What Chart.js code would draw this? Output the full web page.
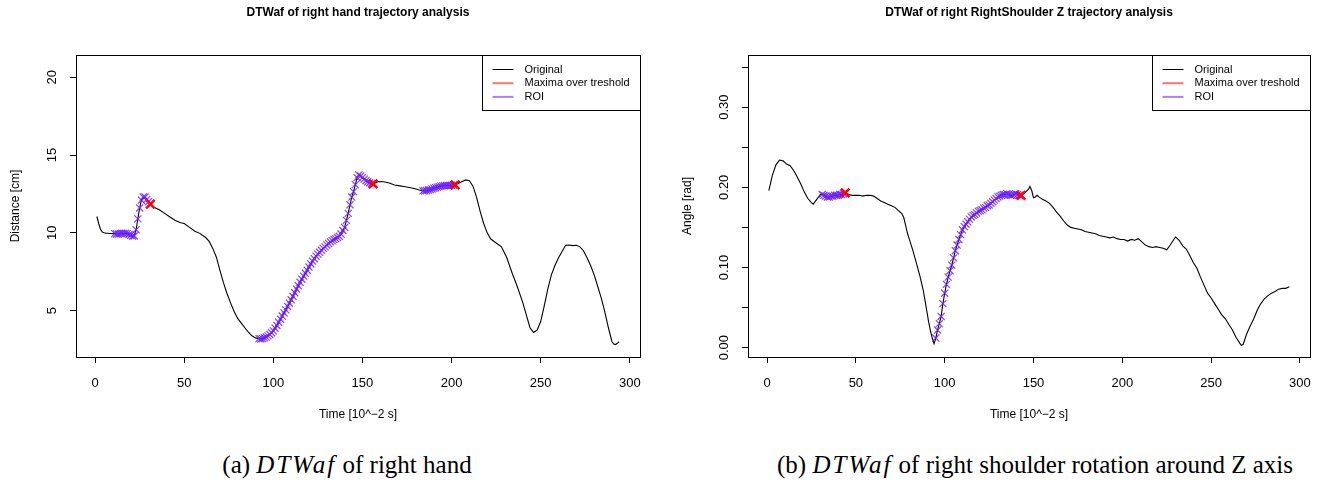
<!DOCTYPE html>
<html>
<head>
<meta charset="utf-8">
<script src="https://cdn.jsdelivr.net/npm/chart.js@4.4.1/dist/chart.umd.min.js"></script>
<style>
  body { margin: 0; background: #fff; width: 1324px; height: 485px; position: relative; overflow: hidden; }
  .panel { position: absolute; top: 0; width: 662px; height: 440px; }
  .caption {
    position: absolute; top: 450px; width: 700px; text-align: center; line-height: 30px;
    font-family: "Liberation Serif", "Times New Roman", serif; font-size: 25px; color: #000;
  }
  .caption i { letter-spacing: 2px; }
</style>
</head>
<body>
<div class="panel" style="left:0"><canvas id="handChart" width="662" height="440"></canvas></div>
<div class="panel" style="left:662px"><canvas id="shoulderChart" width="662" height="440"></canvas></div>
<div class="caption" style="left:-3px">(a) <i>DTWaf</i> of right hand</div>
<div class="caption" style="left:685px">(b) <i>DTWaf</i> of right shoulder rotation around Z axis</div>

<script>
// ---- data: right hand distance ----
const handTime = [
  1, 2, 3, 4, 5, 6, 7, 8, 9, 10, 11, 12, 13, 14, 15, 16, 17, 18, 19, 20,
  21, 22, 23, 24, 25, 26, 27, 28, 29, 30, 31,
  33, 36, 39, 42, 45, 48, 50, 53, 56, 59, 62, 64, 66, 68, 70, 72, 74, 76, 78, 80,
  82, 84, 86, 88, 90,
  92, 93, 94, 95, 96, 97, 98, 99, 100, 101, 102, 103, 104, 105, 106, 107, 108, 109, 110, 111,
  112, 113, 114, 115, 116, 117, 118, 119, 120, 121, 122, 123, 124, 125, 126, 127, 128, 129, 130, 131,
  132, 133, 134, 135, 136, 137, 138, 139, 140, 141, 142, 143, 144, 145, 146, 147, 148, 149, 150, 151,
  152, 153, 154, 155, 156,
  159, 162, 165, 168, 171, 174, 177, 180, 183,
  184, 185, 186, 187, 188, 189, 190, 191, 192, 193, 194, 195, 196, 197, 198, 199, 200, 201, 202,
  205, 208, 210, 212, 214, 216, 218, 220, 222, 225, 228, 231, 234, 237, 240, 242, 244, 246, 248, 250,
  252, 254, 256, 258, 260, 262, 264, 266, 268, 270, 272, 274, 276, 278, 280, 282, 284, 286, 288, 290,
  291, 292, 293, 294
]
const handDist = [
  11.05, 10.6, 10.25, 10.05, 10.0, 9.98, 9.97, 9.96, 9.96, 9.95, 9.95, 9.93, 9.92, 9.95, 9.97, 9.96, 9.98, 9.95, 9.9, 9.85,
  9.8, 9.8, 10.2, 10.9, 11.6, 12.1, 12.3, 12.3, 12.15, 12.0, 11.85,
  11.65, 11.48, 11.25, 11.02, 10.8, 10.65, 10.6, 10.35, 10.1, 9.95, 9.7, 9.45, 9.0, 8.45, 7.6, 6.8, 6.1, 5.5, 4.95, 4.5,
  4.2, 3.9, 3.62, 3.38, 3.25,
  3.2, 3.18, 3.2, 3.25, 3.3, 3.38, 3.47, 3.58, 3.7, 3.87, 4.05, 4.25, 4.45, 4.65, 4.85, 5.05, 5.27, 5.48, 5.7, 5.92,
  6.15, 6.38, 6.6, 6.82, 7.02, 7.22, 7.4, 7.6, 7.8, 8.0, 8.18, 8.34, 8.5, 8.63, 8.75, 8.88, 9.0, 9.1, 9.22, 9.32,
  9.42, 9.5, 9.57, 9.63, 9.7, 9.78, 9.92, 10.15, 10.35, 10.8, 11.25, 11.8, 12.3, 12.65, 13.1, 13.55, 13.72, 13.65, 13.55, 13.45,
  13.35, 13.28, 13.22, 13.18, 13.15,
  13.3, 13.28, 13.2, 13.08, 13.02, 12.96, 12.9, 12.82, 12.72,
  12.7, 12.7, 12.72, 12.75, 12.78, 12.82, 12.87, 12.9, 12.94, 12.97, 13.0, 13.02, 13.03, 13.04, 13.05, 13.05, 13.06, 13.07, 13.08,
  13.25, 13.4, 13.35, 13.0, 12.3, 11.4, 10.6, 10.0, 9.6, 9.35, 9.1, 8.4, 7.4, 6.5, 5.5, 4.7, 3.9, 3.6, 3.75, 4.3,
  5.3, 6.4, 7.3, 7.9, 8.4, 8.8, 9.2, 9.22, 9.18, 9.2, 9.1, 8.85, 8.4, 7.9, 7.3, 6.55, 5.8, 4.9, 3.9, 3.0,
  2.85, 2.82, 2.9, 3.0
]
const handRoi = [[11, 30], [92, 155], [184, 201]]
const handMaxima = [31, 156, 202]
const handYTicks = [5, 10, 15, 20]

// ---- data: right shoulder Z angle ----
const shoulderTime = [
  1, 3, 5, 7, 9, 11, 13, 15, 17, 19, 21, 23, 25, 26, 28, 30,
  31, 32, 33, 34, 35, 36, 37, 38, 39, 40, 41, 42, 43, 44,
  46, 48, 50, 52, 54, 56, 58, 60, 62, 64, 66, 68, 70, 72, 74, 76, 77, 78, 79, 80,
  82, 84, 86, 88, 89, 90, 91, 92, 93, 94,
  95, 96, 97, 98, 99, 100, 101, 102, 103, 104, 105, 106, 107, 108, 109, 110, 111, 112, 113, 114,
  115, 116, 117, 118, 119, 120, 121, 122, 123, 124, 125, 126, 127, 128, 129, 130, 131, 132, 133, 134,
  135, 136, 137, 138, 139, 140, 141, 142, 143,
  145, 147, 148, 149, 150, 151, 152, 153, 155, 157, 159, 161, 163, 165, 167, 169, 171, 173, 175, 177,
  179, 181, 183, 185, 187, 189, 191, 193, 195, 197, 199, 201, 203, 205, 207, 209, 211, 213, 215, 217,
  219, 221, 223, 225, 227, 229, 230, 232, 234, 236, 238, 240, 242, 244, 246, 248, 250, 252, 254, 256,
  258, 260, 262, 264, 266, 267, 268, 270, 272, 274, 276, 278, 280, 282, 284, 286, 288, 290, 292, 294
]
const shoulderAngle = [
  0.196, 0.215, 0.228, 0.234, 0.233, 0.229, 0.227, 0.221, 0.213, 0.204, 0.194, 0.186, 0.181, 0.179, 0.185, 0.191,
  0.191, 0.19, 0.189, 0.188, 0.188, 0.189, 0.189, 0.19, 0.19, 0.19, 0.191, 0.191, 0.192, 0.193,
  0.191, 0.19, 0.19, 0.19, 0.189, 0.19, 0.19, 0.189, 0.186, 0.183, 0.181, 0.179, 0.177, 0.175, 0.171, 0.167, 0.162, 0.153, 0.143, 0.136,
  0.122, 0.106, 0.09, 0.071, 0.058, 0.045, 0.032, 0.021, 0.012, 0.005,
  0.012, 0.022, 0.03, 0.039, 0.055, 0.068, 0.079, 0.088, 0.096, 0.103, 0.112, 0.121, 0.128, 0.135, 0.141, 0.147, 0.151, 0.154, 0.157, 0.16,
  0.163, 0.165, 0.166, 0.168, 0.17, 0.171, 0.172, 0.174, 0.175, 0.177, 0.178, 0.18, 0.182, 0.184, 0.186, 0.188, 0.189, 0.19, 0.191, 0.191,
  0.192, 0.191, 0.19, 0.19, 0.191, 0.192, 0.191, 0.19, 0.19,
  0.193, 0.197, 0.201, 0.196, 0.187, 0.188, 0.19, 0.188, 0.185, 0.183, 0.18, 0.175, 0.169, 0.164, 0.158, 0.153, 0.15, 0.149, 0.148, 0.147,
  0.145, 0.144, 0.143, 0.142, 0.14, 0.139, 0.138, 0.137, 0.138, 0.136, 0.135, 0.135, 0.133, 0.135, 0.134, 0.136, 0.132, 0.128, 0.126, 0.125,
  0.126, 0.125, 0.124, 0.122, 0.128, 0.135, 0.138, 0.134, 0.127, 0.123, 0.115, 0.106, 0.099, 0.088, 0.078, 0.068, 0.062, 0.055, 0.048, 0.041,
  0.036, 0.029, 0.022, 0.013, 0.006, 0.003, 0.004, 0.017, 0.027, 0.036, 0.047, 0.055, 0.061, 0.065, 0.068, 0.07, 0.073, 0.074, 0.074, 0.076
]
const shoulderRoi = [[31, 43], [95, 142]]
const shoulderMaxima = [44, 143]
const shoulderYTicks = [0, 0.05, 0.1, 0.15, 0.2, 0.25, 0.3, 0.35]
const shoulderYLabels = [0, 0.1, 0.2, 0.3]

const xTicks = [0, 50, 100, 150, 200, 250, 300]
const legendLabels = ['Original', 'Maxima over treshold', 'ROI']

// ---- styling ----
const FONT = '"Liberation Sans", Arial, Helvetica, sans-serif'
const LINE = '#000000'
const ROI_COLOR = 'rgba(110, 30, 255, 0.85)'
const MAX_COLOR = '#ff0000'
const legendColors = [LINE, 'rgba(255, 0, 0, 0.55)', 'rgba(115, 40, 255, 0.6)']

function points(time, vals, keep) {
  const out = []
  time.forEach((t, i) => { if (keep(t)) out.push({ x: t, y: vals[i] }) })
  return out
}

// R-like frame, rotated y labels, titles and legend
const rPlot = {
  id: 'rPlot',
  afterDraw(chart, args, o) {
    const { ctx, chartArea: a, scales: { y } } = chart
    const cx = (a.left + a.right) / 2
    ctx.save()
    ctx.strokeStyle = '#000'
    ctx.lineWidth = 1
    ctx.strokeRect(Math.round(a.left) + 0.5, Math.round(a.top) + 0.5,
      Math.round(a.right - a.left), Math.round(a.bottom - a.top))

    ctx.fillStyle = '#000'
    ctx.textAlign = 'center'
    ctx.textBaseline = 'middle'
    ctx.font = '13px ' + FONT
    o.yLabels.forEach(v => {
      ctx.save()
      ctx.translate(a.left - 24, y.getPixelForValue(v))
      ctx.rotate(-Math.PI / 2)
      ctx.fillText(o.yFormat(v), 0, 0)
      ctx.restore()
    })

    ctx.font = 'bold 12px ' + FONT
    ctx.fillText(o.title, cx, 13)
    ctx.font = '12px ' + FONT
    ctx.fillText(o.xTitle, cx, 415)
    ctx.save()
    ctx.translate(a.left - 60, (a.top + a.bottom) / 2)
    ctx.rotate(-Math.PI / 2)
    ctx.fillText(o.yTitle, 0, 0)
    ctx.restore()

    // legend box (top right)
    const bw = 158, bh = 55
    const bx = Math.round(a.right - bw) + 0.5, by = Math.round(a.top) + 0.5
    ctx.fillStyle = '#fff'
    ctx.fillRect(bx, by, bw, bh)
    ctx.strokeRect(bx, by, bw, bh)
    ctx.font = '11px ' + FONT
    ctx.textAlign = 'left'
    legendLabels.forEach((label, i) => {
      const ly = by + 14 + i * 13.7
      ctx.strokeStyle = legendColors[i]
      ctx.lineWidth = i === 0 ? 1 : 2
      ctx.beginPath()
      ctx.moveTo(bx + 10, ly)
      ctx.lineTo(bx + 31, ly)
      ctx.stroke()
      ctx.fillStyle = '#000'
      ctx.fillText(label, bx + 42, ly)
    })
    ctx.restore()
  }
}

function makeChart(id, cfg) {
  const inRoi = t => cfg.roi.some(r => t >= r[0] && t <= r[1])
  new Chart(document.getElementById(id), {
    type: 'line',
    data: {
      datasets: [{
        label: 'Maxima over treshold',
        data: points(cfg.time, cfg.vals, t => cfg.maxima.includes(t)),
        showLine: false,
        pointStyle: 'crossRot',
        pointRadius: 6,
        borderWidth: 2.5,
        borderColor: MAX_COLOR,
        order: 1
      }, {
        label: 'ROI',
        data: points(cfg.time, cfg.vals, inRoi),
        showLine: false,
        pointStyle: 'crossRot',
        pointRadius: 5,
        borderWidth: 1.2,
        borderColor: ROI_COLOR,
        order: 2
      }, {
        label: 'Original',
        data: points(cfg.time, cfg.vals, () => true),
        borderColor: LINE,
        borderWidth: 1.1,
        pointRadius: 0,
        tension: 0,
        order: 3
      }]
    },
    options: {
      responsive: false,
      animation: false,
      events: [],
      layout: { padding: { left: 0, right: cfg.padRight, top: 55, bottom: 0 } },
      plugins: {
        legend: { display: false },
        tooltip: { enabled: false },
        rPlot: {
          title: cfg.title,
          xTitle: 'Time [10^\u22122 s]',
          yTitle: cfg.yTitle,
          yLabels: cfg.yLabels,
          yFormat: cfg.yFormat
        }
      },
      scales: {
        x: {
          type: 'linear',
          min: -10.72,
          max: 305.72,
          afterBuildTicks: s => { s.ticks = xTicks.map(v => ({ value: v })) },
          afterFit: s => { s.height = 83 },
          border: { display: false },
          grid: { drawOnChartArea: false, tickLength: 6, tickColor: '#000', color: '#000' },
          ticks: { color: '#000', padding: 13, maxRotation: 0, autoSkip: false, font: { family: FONT, size: 13 } }
        },
        y: {
          type: 'linear',
          min: cfg.yMin,
          max: cfg.yMax,
          afterBuildTicks: s => { s.ticks = cfg.yTicks.map(v => ({ value: v })) },
          afterFit: s => { s.width = cfg.yWidth },
          border: { display: false },
          grid: { drawOnChartArea: false, tickLength: 6, tickColor: '#000', color: '#000' },
          ticks: { display: false }
        }
      }
    },
    plugins: [rPlot]
  })
}

makeChart('handChart', {
  time: handTime, vals: handDist, roi: handRoi, maxima: handMaxima,
  yMin: 2.02, yMax: 21.43, yTicks: handYTicks, yLabels: handYTicks,
  yFormat: v => String(v),
  yWidth: 76, padRight: 22,
  title: 'DTWaf of right hand trajectory analysis',
  yTitle: 'Distance [cm]'
})

makeChart('shoulderChart', {
  time: shoulderTime, vals: shoulderAngle, roi: shoulderRoi, maxima: shoulderMaxima,
  yMin: -0.0116, yMax: 0.365, yTicks: shoulderYTicks, yLabels: shoulderYLabels,
  yFormat: v => v.toFixed(2),
  yWidth: 86, padRight: 12,
  title: 'DTWaf of right RightShoulder Z trajectory analysis',
  yTitle: 'Angle [rad]'
})
</script>
</body>
</html>
